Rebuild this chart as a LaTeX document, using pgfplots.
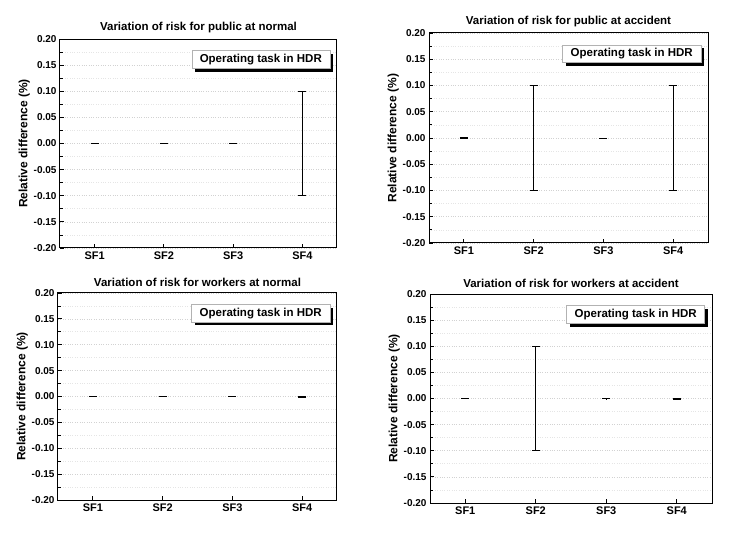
\documentclass[border=0pt]{standalone}
\usepackage{fontspec}
\setmainfont{Liberation Sans}
\usepackage{pgfplots}
\pgfplotsset{compat=1.18}
\usetikzlibrary{shadows}

\newcommand{\fs}[1]{\fontsize{#1bp}{#1bp}\selectfont\bfseries}

\pgfplotsset{
  riskpanel/.style={
    scale only axis,
    xmin=0.5, xmax=4.5,
    ymin=-0.2, ymax=0.2,
    xtick={1,2,3,4},
    xticklabels={SF1,SF2,SF3,SF4},
    ytick={-0.2,-0.15,-0.1,-0.05,0,0.05,0.1,0.15,0.2},
    minor y tick num=1,
    tick align=inside,
    xtick pos=bottom, ytick pos=left,
    major tick length=4bp, minor tick length=2.5bp,
    tick style={black, line width=0.8bp},
    ymajorgrids, yminorgrids,
    major grid style={gray!35, dotted, line width=0.7bp},
    minor grid style={gray!20, dotted, line width=0.7bp},
    axis line style={line width=1bp},
    /pgf/number format/assume math mode=true,
    yticklabel style={/pgf/number format/fixed, /pgf/number format/fixed zerofill,
      /pgf/number format/precision=2, font=\fs{10}},
    xticklabel style={font=\fs{11}},
    ylabel={Relative difference (\%)},
    ylabel style={font=\fs{12}, yshift=-3bp},
    title style={font=\fs{11.5}, yshift=-3bp},
  },
  errbars/.style={
    draw=none, no markers,
    error bars/.cd, y dir=both, y explicit,
    error bar style={draw=black, line width=0.9bp},
    error mark options={draw=black, mark size=4bp, line width=0.9bp, rotate=90},
  },
}

\newcommand{\hdrbox}{\node[draw=gray!60, line width=0.5bp, fill=white, anchor=north east,
  drop shadow={shadow xshift=3bp, shadow yshift=-3bp, fill=black, opacity=1},
  inner xsep=8bp, inner ysep=3.5bp, font=\fs{11.5}]
  at (rel axis cs:0.975,0.945) {Operating task in HDR};}

\pgfplotstableread{
x y e
1 0 0
2 0 0
3 0 0
4 0 0.1
}\publicnormal
\pgfplotstableread{
x y e
1 0 0.0005
2 0 0.1
3 0 0
4 0 0.1
}\publicaccident
\pgfplotstableread{
x y e
1 0 0.0005
2 0 0
3 0 0
4 0 0.001
}\workersnormal
\pgfplotstableread{
x y e
1 0 0
2 0 0.1
3 0 0.0005
4 0 0.001
}\workersaccident

\begin{document}
\begin{tikzpicture}
\useasboundingbox (0,0) rectangle (732bp,539bp);

\begin{axis}[riskpanel, at={(60bp,291bp)}, anchor=south west, width=277bp, height=209bp,
  title={Variation of risk for public at normal}]
\addplot[errbars] table[x=x, y=y, y error=e] {\publicnormal};
\hdrbox
\end{axis}

\begin{axis}[riskpanel, at={(429bp,296bp)}, anchor=south west, width=279bp, height=210bp,
  title={Variation of risk for public at accident}]
\addplot[errbars] table[x=x, y=y, y error=e] {\publicaccident};
\hdrbox
\end{axis}

\begin{axis}[riskpanel, at={(58bp,39bp)}, anchor=south west, width=279bp, height=207bp,
  title={Variation of risk for workers at normal}]
\addplot[errbars] table[x=x, y=y, y error=e] {\workersnormal};
\hdrbox
\end{axis}

\begin{axis}[riskpanel, at={(430bp,36bp)}, anchor=south west, width=282bp, height=209bp,
  title={Variation of risk for workers at accident}]
\addplot[errbars] table[x=x, y=y, y error=e] {\workersaccident};
\hdrbox
\end{axis}
\end{tikzpicture}
\end{document}
